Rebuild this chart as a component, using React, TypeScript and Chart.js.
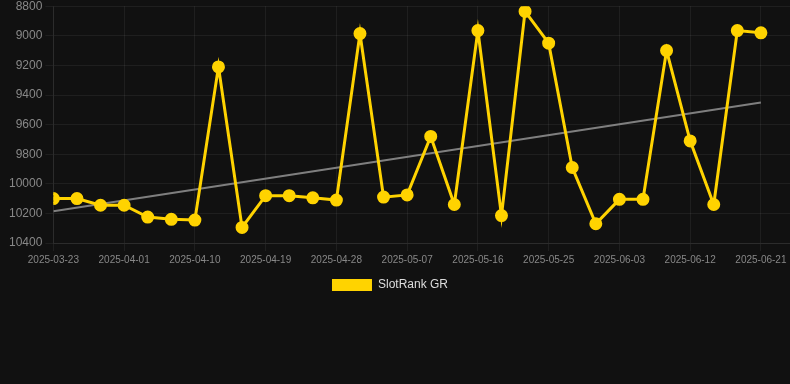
import React, { useEffect, useRef } from "react";
import { Chart, registerables } from "chart.js";

Chart.register(...registerables);

const dates: string[] = [
  "2025-03-23", "2025-03-26", "2025-03-29", "2025-04-01", "2025-04-04", "2025-04-07",
  "2025-04-10", "2025-04-13", "2025-04-16", "2025-04-19", "2025-04-22", "2025-04-25",
  "2025-04-28", "2025-05-01", "2025-05-04", "2025-05-07", "2025-05-10", "2025-05-13",
  "2025-05-16", "2025-05-19", "2025-05-22", "2025-05-25", "2025-05-28", "2025-05-31",
  "2025-06-03", "2025-06-06", "2025-06-09", "2025-06-12", "2025-06-15", "2025-06-18",
  "2025-06-21",
];

const ranks: number[] = [
  10100, 10100, 10145, 10145, 10225, 10240, 10245, 9210, 10295, 10080, 10080, 10095,
  10110, 8985, 10090, 10075, 9680, 10140, 8965, 10215, 8835, 9050, 9890, 10270,
  10105, 10105, 9100, 9710, 10140, 8965, 8980,
];

const seriesLabel = "SlotRank GR";
const yMin = 8800;
const yMax = 10400;
const yStep = 200;
const xTickStepDays = 9;
const xMaxDays = 93.7;

const DAY = 86400000;
const startMs = Date.parse(dates[0]);

const legendShift = {
  id: "legendShift",
  afterLayout(chart: any) {
    const l = chart.legend;
    if (l) {
      l.left -= 8;
      l.right -= 8;
    }
  },
};

export default function App() {
  const ref = useRef<HTMLCanvasElement | null>(null);

  useEffect(() => {
    document.body.style.margin = "0";
    document.body.style.background = "#111111";
    const days = dates.map((d) => (Date.parse(d) - startMs) / DAY);
    const points = days.map((x, i) => ({ x, y: ranks[i] }));

    // linear regression trend
    const n = days.length;
    const mx = days.reduce((a, b) => a + b, 0) / n;
    const my = ranks.reduce((a, b) => a + b, 0) / n;
    let sxy = 0;
    let sxx = 0;
    for (let i = 0; i < n; i++) {
      sxy += (days[i] - mx) * (ranks[i] - my);
      sxx += (days[i] - mx) * (days[i] - mx);
    }
    const slope = sxy / sxx;
    const icpt = my - slope * mx;
    const trend = [days[0], days[n - 1]].map((x) => ({ x, y: icpt + slope * x }));

    const grid = "rgba(255,255,255,0.06)";
    const chart = new Chart(ref.current!, {
      type: "line",
      data: {
        datasets: [
          {
            label: seriesLabel,
            data: points,
            borderColor: "#FFD300",
            backgroundColor: "#FFD300",
            borderWidth: 3,
            pointRadius: 5,
            pointBackgroundColor: "#FFD300",
            pointBorderColor: "#FFD300",
            tension: 0,
          },
          {
            label: "trend",
            data: trend,
            borderColor: "rgba(140,140,140,0.9)",
            borderWidth: 2,
            pointRadius: 0,
            tension: 0,
          },
        ],
      },
      plugins: [legendShift],
      options: {
        animation: false,
        responsive: true,
        maintainAspectRatio: false,
        layout: { autoPadding: false, padding: { left: 6, right: 0, top: 0, bottom: 0 } },
        plugins: {
          legend: {
            position: "bottom",
            labels: {
              color: "#dddddd",
              font: { size: 12 },
              generateLabels: (c: any) =>
                Chart.defaults.plugins.legend.labels
                  .generateLabels(c)
                  .filter((i: any) => i.datasetIndex === 0)
                  .map((i: any) => ({ ...i, lineWidth: 0 })),
            },
          },
          tooltip: { enabled: false },
        },
        scales: {
          x: {
            type: "linear",
            min: 0,
            max: xMaxDays,
            grid: { color: grid },
            border: { color: grid },
            ticks: {
              stepSize: xTickStepDays,
              includeBounds: false,
              autoSkip: false,
              maxRotation: 0,
              color: "#888888",
              font: { size: 10 },
              callback: (v) => new Date(startMs + Number(v) * DAY).toISOString().slice(0, 10),
            },
          },
          y: {
            reverse: true,
            min: yMin,
            max: yMax,
            grid: { color: grid },
            border: { color: grid },
            ticks: {
              stepSize: yStep,
              color: "#888888",
              font: { size: 12 },
              callback: (v) => String(v),
            },
          },
        },
      },
    });
    return () => chart.destroy();
  }, []);

  return (
    <div style={{ width: 790, height: 384, background: "#111111", overflow: "hidden" }}>
      <div style={{ position: "relative", width: 790, height: 305, marginTop: -4 }}>
        <canvas ref={ref} />
      </div>
    </div>
  );
}
